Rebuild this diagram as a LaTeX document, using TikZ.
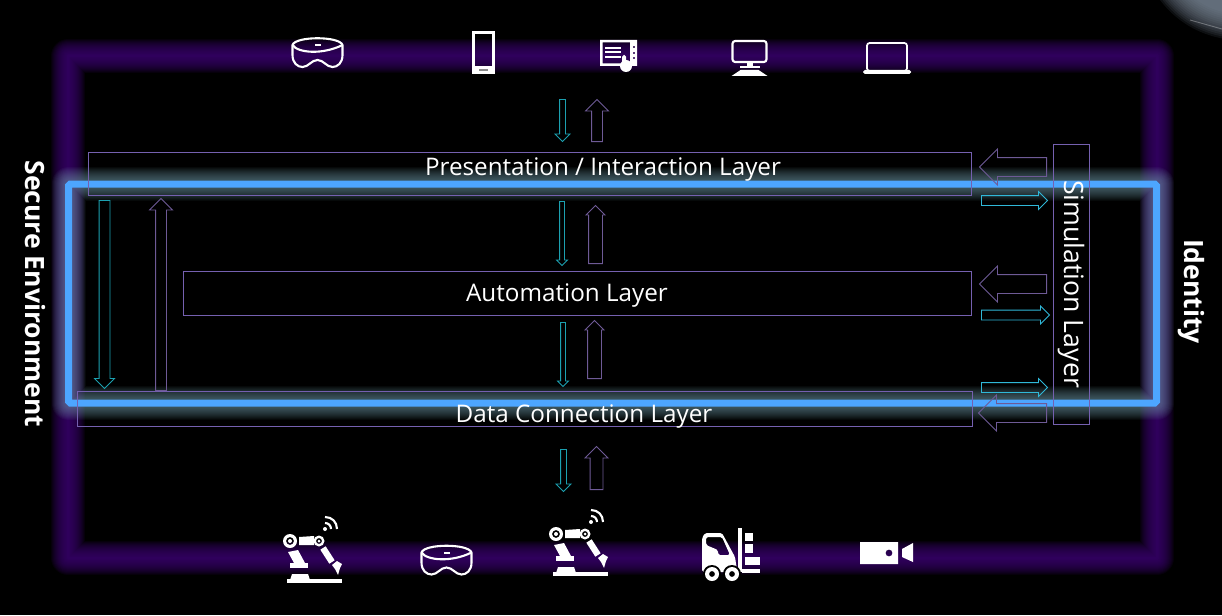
\documentclass[tikz,border=0pt]{standalone}
\usepackage{fontspec}
\setmainfont{Open Sans}
\usepackage{xcolor}
\usetikzlibrary{shapes.arrows}
\definecolor{glowpurple}{HTML}{3C0070}
\definecolor{glowblue}{HTML}{78A4B4}
\definecolor{lineblue}{HTML}{4DA6FF}
\definecolor{layerline}{HTML}{7560B0}
\definecolor{tealline}{HTML}{1CA0B0}
\definecolor{cyanline}{HTML}{30B8D8}
\definecolor{arrowpurple}{HTML}{6E5A96}
\definecolor{slotgrey}{HTML}{8A8A8A}
\definecolor{blobgrey}{HTML}{7E8C9C}
\tikzset{
  layerbox/.style={draw=layerline,line width=.45pt},
  layertext/.style={text=white,font=\fontsize{13.8}{16}\selectfont,inner sep=0pt},
  sidetext/.style={text=white,font=\fontsize{15.1}{17}\selectfont\bfseries,inner sep=0pt,rotate=-90},
  blockarrow/.style={single arrow,anchor=tail,inner sep=0pt,text width=0pt,text depth=0pt,line width=.5pt},
  iconline/.style={draw=white,line width=1.2pt,line join=round},
  iconfill/.style={fill=white,draw=none},
  goggles/.pic={
    \draw[iconline] (-25,-8) .. controls (-22,-17) and (22,-17) .. (25,-8) -- (25,2)
      .. controls (25,10) and (20,14) .. (15,14) .. controls (9,14) and (6,7) .. (0,7)
      .. controls (-6,7) and (-9,14) .. (-15,14) .. controls (-20,14) and (-25,10) .. (-25,2) -- cycle;
    \draw[iconline] (-25,-8) .. controls (-20,0) and (5,2) .. (25,-8);
    \fill[iconfill] (-3,-9) rectangle (3,-7);
  },
  phone/.pic={
    \draw[iconline,line join=miter] (-10,-20) rectangle (10,20);
    \fill[iconfill] (-10.5,14) rectangle (10.5,20.5);
    \fill[slotgrey] (-4.5,17) rectangle (4.5,18.5);
  },
  touchpanel/.pic={
    \fill[iconfill,even odd rule] (-18,-13) rectangle (19,13) (-15.5,-10.5) rectangle (12,10.5)
      (16,-6) circle (1.3) (16,0) circle (1.3) (16,5) circle (1.3);
    \foreach \y in {-5,-1,4}
      \draw[white,line width=.8pt] (-13,\y) -- (3,\y);
    \fill[iconfill,rounded corners=1pt] (4,2) rectangle (8,14);
    \fill[iconfill] (8,13) circle (6);
  },
  desktop/.pic={
    \draw[iconline,rounded corners=1.5pt] (-17,-17) rectangle (17,4);
    \fill[iconfill] (-3,4) rectangle (3,8);
    \fill[iconfill] (-10,8) rectangle (10,10.5);
    \fill[iconfill] (-9,12) -- (9,12) -- (18,18) -- (-18,18) -- cycle;
  },
  laptop/.pic={
    \draw[iconline,line width=1pt,rounded corners=1.5pt] (-20,-15) rectangle (20,13);
    \fill[iconfill,rounded corners=1pt] (-24,12) rectangle (24,16);
  },
  robot/.pic={
    \fill[iconfill] (-28,19) rectangle (27,23);
    \fill[iconfill] (-25,20) -- (-23,14) -- (-7,14) -- (-5,20) -- cycle;
    \fill[iconfill] (-25,3) rectangle (-7,8);
    \fill[iconfill] (-27,-8) -- (-17,-10) -- (-10,3) -- (-21,3) -- cycle;
    \fill[iconfill,even odd rule] (-25,-19) circle (7) circle (4) circle (2);
    \fill[iconfill] (-16,-23) -- (-1,-24) -- (-1,-15) -- (-16,-15) -- cycle;
    \fill[iconfill,even odd rule] (4,-19) circle (5.5) circle (3) circle (1.5);
    \draw[white,line width=3.6pt] (8,-12) -- (17,2);
    \fill[iconfill] (17,5) -- (22,1) -- (27,4) -- (25,8) -- (23,15) -- (20,9) -- cycle;
    \fill[iconfill] (10,-31) circle (2);
    \draw[white,line width=1.2pt] (10,-37) .. controls (13.5,-37) and (16,-34.5) .. (16,-31);
    \draw[white,line width=1.2pt] (10,-43) .. controls (17,-43) and (22,-38) .. (22,-31);
  },
  forklift/.pic={
    \fill[iconfill,even odd rule,rounded corners=1pt] (-28,22) -- (-28,-12) -- (-25,-17) -- (-8,-17) -- (5,7) -- (7,20) -- (7,22) -- cycle
      (-24,-13) -- (-8,-13) -- (0,5) -- (-12,5) -- (-12,0) -- (-24,-5) -- cycle;
    \fill[iconfill] (7.7,-22) rectangle (11.7,22);
    \fill[iconfill] (11.7,19) rectangle (30,22.7);
    \fill[iconfill] (15,-17) rectangle (23,-9);
    \fill[iconfill] (15,-6) rectangle (23,3);
    \fill[iconfill] (15,7) rectangle (30,15);
    \foreach \x in {-18,2} {
      \fill[black] (\x,24) circle (9);
      \fill[iconfill,even odd rule] (\x,24) circle (7) circle (3);
    }
  },
  camera/.pic={
    \fill[iconfill,even odd rule] (-26,-11) rectangle (12,11) (3,0) circle (3.5);
    \fill[iconfill] (16,-4) -- (27,-10) -- (27,9) -- (16,4) -- cycle;
  },
}
\begin{document}
\begin{tikzpicture}[x=.02cm,y=-.02cm]
  \useasboundingbox (0,0) rectangle (1222,615);
  \fill[black] (0,0) rectangle (1222,615);
  % corner
  \begin{scope}
    \clip (0,0) rectangle (1222,615);
    \foreach \r in {100,98,96,94,92,90,88,86,84,82,80,78,76,74}
      \fill[blobgrey,opacity=.11] (1240,-60) circle (\r);
    \draw[white,opacity=.3,line width=.5pt] (1190,20) -- (1222,29);
  \end{scope}
  % glows
  \foreach \w in {34,32,30,28,26,24,22,20,18,16,14,12,10,8,6,4,3,2}
    \draw[glowpurple,opacity=.1,line width=\w*.02cm,line join=round] (68,56) rectangle (1157,558);
  \foreach \w in {34,32,30,28,26,24,22,20,18,16,14,12,10}
    \draw[glowblue,opacity=.055,line width=\w*.02cm,line join=round] (68.5,184) rectangle (1156.5,403);
  \draw[lineblue,line width=7*.02cm,rounded corners=1pt] (68.5,184) rectangle (1156.5,403);
  % layers
  \draw[layerbox] (88,152) rectangle (971,195.5);
  \draw[layerbox] (183,271) rectangle (971,315);
  \draw[layerbox] (77,391) rectangle (972,426.5);
  \draw[layerbox] (1053,144) rectangle (1089,424);
  \node[layertext] (presentation) at (603,169.5) {Presentation / Interaction Layer};
  \node[layertext] (automation) at (567,295.5) {Automation Layer};
  \node[layertext] (dataconn) at (584,416.5) {Data Connection Layer};
  \node[layertext,font=\fontsize{15.2}{17}\selectfont,rotate=-90] (simulation) at (1071,284) {Simulation Layer};
  \node[sidetext] (secure) at (35,294) {Secure Environment};
  \node[sidetext] (identity) at (1191,291.5) {Identity};
  % arrows
  \foreach \n/\x/\y/\r/\l/\h/\s in {
    topdown/562.5/99/-90/42/14/5, presentdown/562/201/-90/64/10/4,
    autodown/563/322/-90/64/10/4, datadown/563.5/449/-90/42/14/5,
    leftdown/104.5/200/-90/188/19/10}
    \node[blockarrow,draw=tealline,rotate=\r,minimum height=\l*.02cm,text height=\s*.02cm,
      single arrow head extend=(\h-\s)/2*.02cm] (\n) at (\x,\y) {};
  \foreach \n/\x/\y/\l in {
    simright/981/200.5/66, autoright/981/315/68, dataright/981/387.5/66}
    \node[blockarrow,draw=cyanline,minimum height=\l*.02cm,text height=9*.02cm,
      single arrow head extend=4*.02cm] (\n) at (\x,\y) {};
  \foreach \n/\x/\y/\r/\l/\h/\s in {
    topup/597/142/90/42/22/10, presentup/595.5/264/90/58/18/13,
    autoup/594.5/379/90/58/18/13, dataup/596.5/490/90/43/22/12,
    leftup/161/391/90/192/22/10, simleft/1047/167/180/67/35/18,
    autoleft/1047/284/180/67/35/18, dataleft/1047/413/180/68/35/18}
    \node[blockarrow,draw=arrowpurple,rotate=\r,minimum height=\l*.02cm,text height=\s*.02cm,
      single arrow head extend=(\h-\s)/2*.02cm] (\n) at (\x,\y) {};
  % devices
  \pic at (317.5,53) {goggles};
  \pic at (483.5,52.5) {phone};
  \pic at (618,53) {touchpanel};
  \pic at (749.5,58) {desktop};
  \pic at (887,58) {laptop};
  \pic at (315,560) {robot};
  \pic at (446.5,560.5) {goggles};
  \pic at (581,553) {robot};
  \pic at (730,550) {forklift};
  \pic at (886,553) {camera};
\end{tikzpicture}
\end{document}
